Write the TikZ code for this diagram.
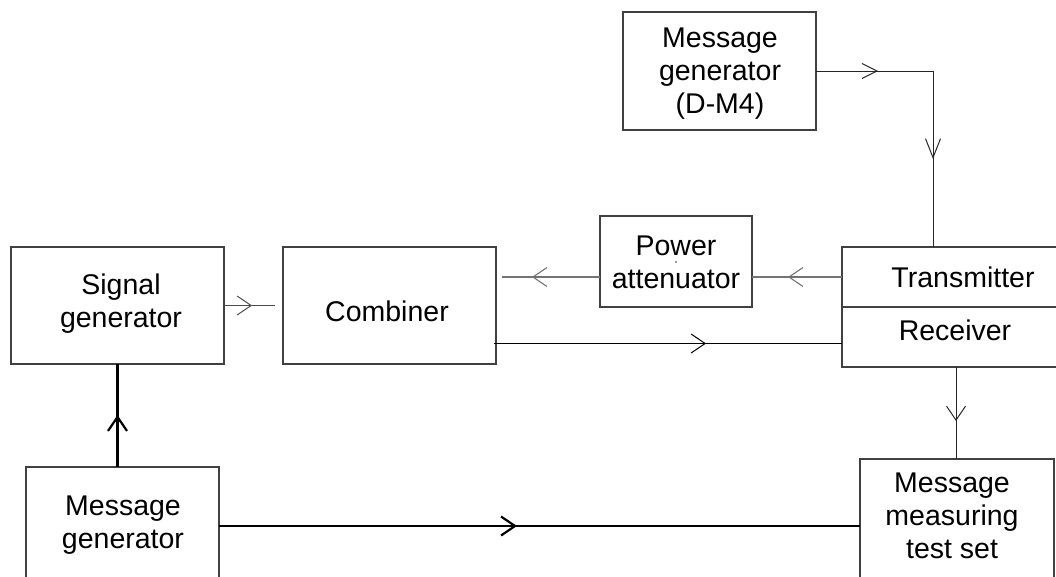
\documentclass[tikz,border=0pt]{standalone}
\usepackage{fontspec}
\setmainfont{Liberation Sans}
\usetikzlibrary{arrows.meta,decorations.markings,calc}
\tikzset{
  chev/.tip={Straight Barb[length=14pt,width=19pt]},
  chevs/.tip={Straight Barb[length=15pt,width=15pt]},
  chevl/.tip={Straight Barb[length=19pt,width=15pt]},
  box/.style={draw=black!75, line width=1.1pt, inner sep=0pt, outer sep=0pt, anchor=north west},
  lbl/.style={anchor=base, align=center, inner sep=0pt, font=\fontsize{28.5}{33}\selectfont},
  mid/.style={postaction={decorate,decoration={markings,mark=at position #1 with {\arrow{chev}}}}},
  twomid/.style 2 args={postaction={decorate,decoration={markings,
      mark=at position #1 with {\arrow{chevs}},
      mark=at position #2 with {\arrow{chevl}}}}},
  thinline/.style={line width=1pt, draw=black!85},
  greyline/.style={line width=1.1pt, draw=black!55},
  thickline/.style={line width=2.2pt, draw=black},
}
\begin{document}
\begin{tikzpicture}[x=1pt,y=-1pt]
\useasboundingbox (0,0) rectangle (1056,576);
\clip (0,0) rectangle (1056,576);

% boxes
\node[box, minimum width=213pt, minimum height=117pt] (siggen) at (11,247) {};
\node[box, minimum width=213pt, minimum height=117pt] (comb) at (283,247) {};
\node[box, minimum width=152pt, minimum height=91pt] (att) at (600,216) {};
\node[box, minimum width=193pt, minimum height=118pt] (dm4) at (623,12) {};
\node[box, minimum width=228pt, minimum height=60pt] (tx) at (842,247) {};
\node[box, minimum width=228pt, minimum height=60pt] (rx) at (842,307) {};
\node[box, minimum width=193pt, minimum height=130pt] (msggen) at (26,467) {};
\node[box, minimum width=194pt, minimum height=140pt] (meas) at (860,459) {};

% texts (anchor = baseline of the last line)
\node[lbl] (tsig) at (121,327) {Signal\\generator};
\node[lbl] (tcomb) at (387,321) {Combiner};
\node[lbl] (tatt) at (676,288) {Power\\attenuator};
\node[lbl] (tdm4) at (720,113) {Message\\generator\\(D-M4)};
\node[lbl] (ttx) at (963,287) {Transmitter};
\node[lbl] (trx) at (955,340) {Receiver};
\node[lbl] (tmsg) at (123,548) {Message\\generator};
\node[lbl] (tmeas) at (952,558) {Message\\measuring\\test set};
\fill[black!80] (676,262) circle (0.9);

% connectors
\coordinate (a0) at (siggen.south |- msggen.north);
\draw[thickline, mid=52pt] (a0) -- (siggen.south);

\coordinate (b1) at ($(comb.west)+(-8,0)$);
\draw[thinline, draw=black!70, mid=28pt] (siggen.east) -- (b1);

\draw[greyline, mid=54pt] (tx.west) -- (tx.west -| att.east);
\coordinate (c1) at ($(tx.west -| comb.east)+(6,0)$);
\draw[greyline, mid=68pt] (tx.west -| att.west) -- (c1);

\coordinate (d0) at ($(comb.south east)+(-2,-20.5)$);
\draw[thinline, draw=black, mid=212pt] (d0) -- (d0 -| rx.west);

\coordinate (e1) at ($(tx.north west)+(91,0)$);
\draw[thinline, twomid={62pt}{205pt}] (dm4.east) -| (e1);

\draw[thinline, mid=54pt] (rx.south) -- (rx.south |- meas.north);

\coordinate (g0) at ($(msggen.north east)+(0,59)$);
\draw[thickline, mid=298pt] (g0) -- (g0 -| meas.west);
\end{tikzpicture}
\end{document}
